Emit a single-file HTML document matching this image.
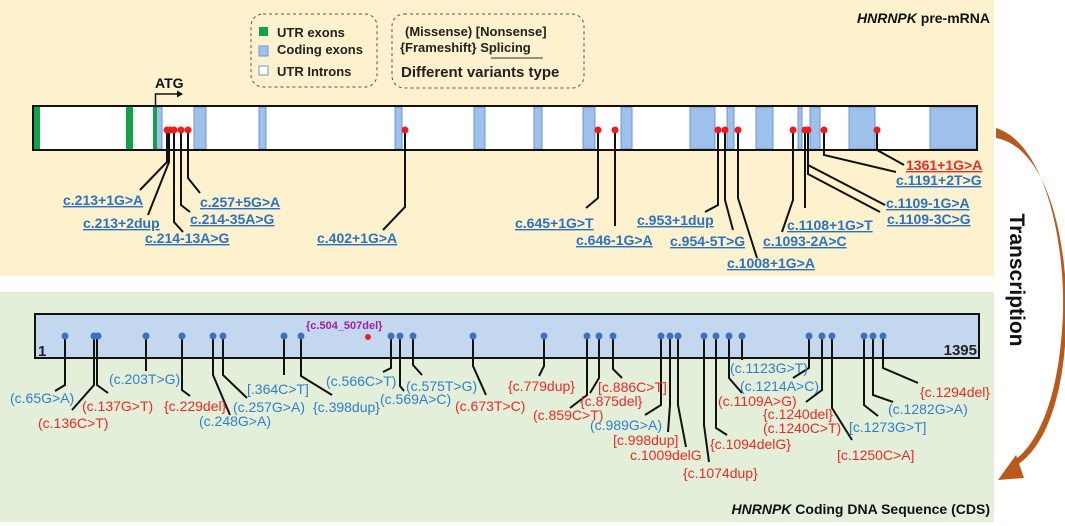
<!DOCTYPE html>
<html><head><meta charset="utf-8"><style>
html,body{margin:0;padding:0;background:#fff;}
svg{display:block;font-family:"Liberation Sans",Arial,sans-serif;}
.b{fill:#2a72c4;font-weight:bold;font-size:14px;text-decoration:underline;}
.r{fill:#ee2a24;font-weight:bold;font-size:14px;text-decoration:underline;}
.bb{fill:#2f7fcc;font-size:14px;}
.rr{fill:#ee2a24;font-size:14px;}
.ln{fill:none;stroke:#111;stroke-width:2;}
</style></head><body>
<svg width="1065" height="526" viewBox="0 0 1065 526" xmlns="http://www.w3.org/2000/svg">
<rect x="0" y="0" width="994" height="276" fill="#fdf2cd"/>
<rect x="0" y="292" width="994" height="230" fill="#e3efd8"/>
<!-- legend -->
<rect x="251" y="14" width="126" height="73" rx="12" fill="none" stroke="#555" stroke-dasharray="3,3"/>
<rect x="259" y="27" width="9" height="9" fill="#12a24a"/>
<rect x="259" y="46" width="9" height="10" fill="#9dc1ea" stroke="#6f97cf"/>
<rect x="259" y="66" width="9" height="9" fill="#fff" stroke="#6f97cf"/>
<text x="277" y="37" font-size="13" font-weight="bold" fill="#222">UTR exons</text>
<text x="277" y="54" font-size="13" font-weight="bold" fill="#222">Coding exons</text>
<text x="277" y="76" font-size="13" font-weight="bold" fill="#222">UTR Introns</text>
<rect x="392" y="14" width="192" height="74" rx="12" fill="none" stroke="#555" stroke-dasharray="3,3"/>
<text x="405" y="36" font-size="13" font-weight="bold" fill="#222">(Missense)  [Nonsense]</text>
<text x="400" y="52" font-size="13" font-weight="bold" fill="#222">{Frameshift}  Splicing</text>
<line x1="491" y1="58" x2="543" y2="58" stroke="#333" stroke-width="1"/>
<text x="401" y="77" font-size="15" font-weight="bold" fill="#222">Different variants type</text>
<text x="990" y="23" font-size="14" font-weight="bold" fill="#111" text-anchor="end"><tspan font-style="italic">HNRNPK</tspan> pre-mRNA</text>
<text x="155" y="88" font-size="14" font-weight="bold" fill="#111">ATG</text>
<path d="M155.5 106 V94 H182" stroke="#111" stroke-width="1.5" fill="none"/>
<path d="M183 94 l-6 -3.5 v7 z" fill="#111"/>
<!-- gene -->
<rect x="33" y="106" width="944" height="44" fill="#fff"/>
<g fill="#9dc1ea" stroke="#6f97cf" stroke-width="1">
<rect x="156" y="107" width="6" height="42"/><rect x="194" y="107" width="12" height="42"/>
<rect x="259" y="107" width="7" height="42"/><rect x="395" y="107" width="7" height="42"/>
<rect x="474" y="107" width="11" height="42"/><rect x="534" y="107" width="8" height="42"/>
<rect x="583" y="107" width="12" height="42"/><rect x="621" y="107" width="11" height="42"/>
<rect x="690" y="107" width="25" height="42"/><rect x="727" y="107" width="7" height="42"/>
<rect x="756" y="107" width="17" height="42"/><rect x="798" y="107" width="4" height="42"/>
<rect x="810" y="107" width="10" height="42"/><rect x="849" y="107" width="26" height="42"/>
<rect x="930" y="107" width="47" height="42"/>
</g>
<g fill="#12a24a"><rect x="34" y="107" width="6" height="42"/><rect x="126" y="107" width="7" height="42"/><rect x="153" y="107" width="4" height="42"/></g>
<rect x="33" y="106" width="944" height="44" fill="none" stroke="#111" stroke-width="2"/>
<!-- top connectors -->
<g class="ln">
<polyline points="167,130 167,162 140,190"/>
<polyline points="169,130 169,162 148,215"/>
<polyline points="174,130 174,222 183,232"/>
<polyline points="181,130 181,205 190,212"/>
<polyline points="188,130 188,178 200,193"/>
<polyline points="405,130 405,207 383,230"/>
<polyline points="598,130 598,198 586,208"/>
<polyline points="615,130 615,226"/>
<polyline points="718,130 718,205 705,212"/>
<polyline points="725,130 725,200 733,230"/>
<polyline points="738,130 738,198 757,258"/>
<polyline points="793,130 793,200 782,232"/>
<polyline points="805,130 805,208"/>
<polyline points="808,130 808,165 885,205"/>
<polyline points="808,130 808,174 880,212"/>
<polyline points="824,130 824,155 896,172"/>
<polyline points="877,130 877,150 904,165"/>
</g>
<g fill="#ee1c1c">
<circle cx="167" cy="130" r="3.5"/><circle cx="170" cy="130" r="3.5"/><circle cx="174" cy="130" r="3.5"/><circle cx="181" cy="130" r="3.5"/><circle cx="188" cy="130" r="3.5"/>
<circle cx="405" cy="130" r="3.5"/><circle cx="598" cy="130" r="3.5"/><circle cx="615" cy="130" r="3.5"/><circle cx="718" cy="130" r="3.5"/><circle cx="725" cy="130" r="3.5"/><circle cx="738" cy="130" r="3.5"/><circle cx="793" cy="130" r="3.5"/><circle cx="805" cy="130" r="3.5"/><circle cx="808" cy="130" r="3.5"/><circle cx="824" cy="130" r="3.5"/><circle cx="877" cy="130" r="3.5"/>
</g>
<text class="b" x="63" y="205">c.213+1G&gt;A</text>
<text class="b" x="83" y="228">c.213+2dup</text>
<text class="b" x="145" y="243">c.214-13A&gt;G</text>
<text class="b" x="200" y="207">c.257+5G&gt;A</text>
<text class="b" x="190" y="224">c.214-35A&gt;G</text>
<text class="b" x="317" y="243">c.402+1G&gt;A</text>
<text class="b" x="515" y="228">c.645+1G&gt;T</text>
<text class="b" x="576" y="245">c.646-1G&gt;A</text>
<text class="b" x="637" y="225">c.953+1dup</text>
<text class="b" x="670" y="246">c.954-5T&gt;G</text>
<text class="b" x="727" y="268">c.1008+1G&gt;A</text>
<text class="b" x="763" y="246">c.1093-2A&gt;C</text>
<text class="b" x="787" y="230">c.1108+1G&gt;T</text>
<text class="b" x="886" y="208">c.1109-1G&gt;A</text>
<text class="b" x="887" y="224">c.1109-3C&gt;G</text>
<text class="b" x="896" y="185">c.1191+2T&gt;G</text>
<text class="r" x="906" y="170">1361+1G&gt;A</text>
<!-- CDS -->
<rect x="35" y="314" width="944" height="44" fill="#c3d8ef" stroke="#111" stroke-width="2"/>
<text x="38" y="356" font-size="15" font-weight="bold" fill="#222">1</text>
<text x="977" y="355" font-size="15" font-weight="bold" fill="#222" text-anchor="end">1395</text>
<text x="306" y="329" font-size="11" font-weight="bold" fill="#a020a0">{c.504_507del}</text>
<circle cx="368" cy="337" r="3" fill="#ee1c1c"/>
<g class="ln">
<polyline points="65,336 65,385 55,391"/>
<polyline points="94,336 94,385 72,410"/>
<polyline points="97,336 97,385 108,393"/>
<polyline points="146,336 146,371"/>
<polyline points="182,336 182,390 190,396"/>
<polyline points="213,336 213,375 230,415"/>
<polyline points="223,336 223,375 247,398"/>
<polyline points="284,336 284,375"/>
<polyline points="301,336 301,376 332,395"/>
<polyline points="391,336 391,368 383,372"/>
<polyline points="400,336 400,386 404,391"/>
<polyline points="413,336 413,365 422,375"/>
<polyline points="473,336 473,366 486,395"/>
<polyline points="544,336 544,366 539,376"/>
<polyline points="587,336 587,395 570,408"/>
<polyline points="599,336 599,378 590,393"/>
<polyline points="613,336 613,369 622,378"/>
<polyline points="661,336 661,405 645,415"/>
<polyline points="670,336 670,405 668,432"/>
<polyline points="678,336 678,405 686,447"/>
<polyline points="704,336 704,425 709,462"/>
<polyline points="716,336 716,428 727,435"/>
<polyline points="729,336 729,378 742,393"/>
<polyline points="742,336 742,360"/>
<polyline points="809,336 809,368 793,378"/>
<polyline points="822,336 822,390 806,402"/>
<polyline points="832,336 832,408 852,440"/>
<polyline points="864,336 864,405 878,416"/>
<polyline points="873,336 873,395 893,402"/>
<polyline points="883,336 883,368 918,383"/>
</g>
<g fill="#3e6fc4">
<circle cx="65" cy="336" r="3.5"/><circle cx="94" cy="336" r="3.5"/><circle cx="98" cy="336" r="3.5"/><circle cx="146" cy="336" r="3.5"/><circle cx="182" cy="336" r="3.5"/><circle cx="213" cy="336" r="3.5"/><circle cx="223" cy="336" r="3.5"/><circle cx="284" cy="336" r="3.5"/><circle cx="301" cy="336" r="3.5"/><circle cx="391" cy="336" r="3.5"/><circle cx="400" cy="336" r="3.5"/><circle cx="413" cy="336" r="3.5"/><circle cx="473" cy="336" r="3.5"/><circle cx="544" cy="336" r="3.5"/><circle cx="587" cy="336" r="3.5"/><circle cx="599" cy="336" r="3.5"/><circle cx="613" cy="336" r="3.5"/><circle cx="661" cy="336" r="3.5"/><circle cx="670" cy="336" r="3.5"/><circle cx="678" cy="336" r="3.5"/><circle cx="704" cy="336" r="3.5"/><circle cx="716" cy="336" r="3.5"/><circle cx="729" cy="336" r="3.5"/><circle cx="742" cy="336" r="3.5"/><circle cx="809" cy="336" r="3.5"/><circle cx="822" cy="336" r="3.5"/><circle cx="832" cy="336" r="3.5"/><circle cx="864" cy="336" r="3.5"/><circle cx="873" cy="336" r="3.5"/><circle cx="883" cy="336" r="3.5"/>
</g>
<text class="bb" x="10" y="403">(c.65G&gt;A)</text>
<text class="rr" x="38" y="428">(c.136C&gt;T)</text>
<text class="rr" x="82" y="411">(c.137G&gt;T)</text>
<text class="bb" x="109" y="384">(c.203T&gt;G)</text>
<text class="rr" x="164" y="411">{c.229del}</text>
<text class="bb" x="199" y="426">(c.248G&gt;A)</text>
<text class="bb" x="233" y="412">(c.257G&gt;A)</text>
<text class="bb" x="247" y="394">[.364C&gt;T]</text>
<text class="bb" x="313" y="412">{c.398dup}</text>
<text class="bb" x="326" y="386">(c.566C&gt;T)</text>
<text class="bb" x="380" y="404">(c.569A&gt;C)</text>
<text class="bb" x="406" y="391">(c.575T&gt;G)</text>
<text class="rr" x="455" y="411">(c.673T&gt;C)</text>
<text class="rr" x="508" y="391">{c.779dup}</text>
<text class="rr" x="533" y="420">(c.859C&gt;T)</text>
<text class="rr" x="580" y="406">{c.875del}</text>
<text class="rr" x="598" y="392">[c.886C&gt;T]</text>
<text class="bb" x="590" y="430">(c.989G&gt;A)</text>
<text class="rr" x="613" y="445">[c.998dup]</text>
<text class="rr" x="630" y="460">c.1009delG</text>
<text class="rr" x="683" y="478">{c.1074dup}</text>
<text class="rr" x="710" y="449">{c.1094delG}</text>
<text class="rr" x="718" y="406">(c.1109A&gt;G)</text>
<text class="bb" x="730" y="373">(c.1123G&gt;T)</text>
<text class="bb" x="740" y="391">(c.1214A&gt;C)</text>
<text class="rr" x="763" y="419">{c.1240del}</text>
<text class="rr" x="763" y="433">(c.1240C&gt;T)</text>
<text class="rr" x="837" y="460">[c.1250C&gt;A]</text>
<text class="bb" x="849" y="432">[c.1273G&gt;T]</text>
<text class="bb" x="888" y="414">(c.1282G&gt;A)</text>
<text class="rr" x="920" y="397">{c.1294del}</text>
<text x="990" y="514" font-size="14" font-weight="bold" fill="#111" text-anchor="end"><tspan font-style="italic">HNRNPK</tspan> Coding DNA Sequence (CDS)</text>
<!-- transcription arrow -->
<path d="M996 128 C1050 145 1068 260 1062 330 C1057 400 1038 445 1012 462 L1014 467 C1044 450 1063 400 1066 330 C1070 250 1050 148 996 138 Z" fill="#b9591b"/>
<path d="M998 480 L1016 455 L1024 478 Z" fill="#b9591b"/>
<text transform="translate(1010,280) rotate(90)" font-size="21" font-weight="bold" fill="#111" text-anchor="middle">Transcription</text>
</svg>
</body></html>
